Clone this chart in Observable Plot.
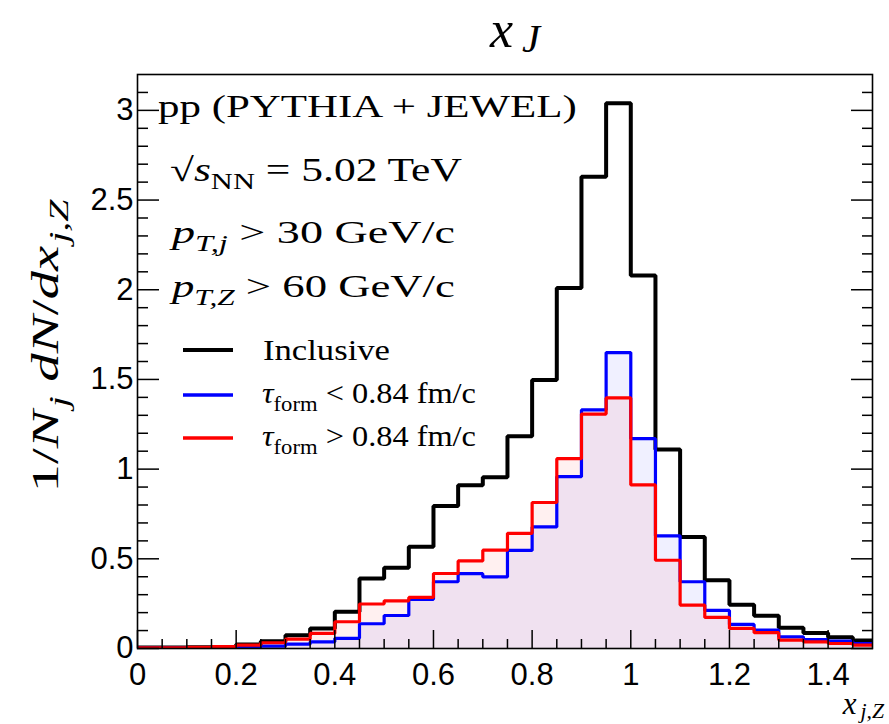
<!DOCTYPE html>
<html><head><meta charset="utf-8">
<script src="https://cdn.jsdelivr.net/npm/d3@7"></script>
<script src="https://cdn.jsdelivr.net/npm/@observablehq/plot@0.6"></script>
<style>
body{margin:0;background:#fff;}
#wrap{position:relative;width:889px;height:724px;overflow:hidden;background:#fff}
#wrap svg{position:absolute;left:0;top:0}
</style></head><body><div id="wrap"></div>
<script>
// bin lower edges (width 0.05)
const binLow = [0,0.05,0.1,0.15,0.2,0.25,0.3,0.35,0.4,0.45,0.5,0.55,0.6,0.65,0.7,0.75,0.8,0.85,0.9,0.95,1.0,1.05,1.1,1.15,1.2,1.25,1.3,1.35,1.4,1.45];
const binHigh = 1.5;
const inclusive = [0.005,0.005,0.007,0.009,0.022,0.04,0.074,0.112,0.205,0.39,0.45,0.567,0.795,0.91,0.955,1.183,1.497,2.01,2.63,3.04,2.08,1.11,0.621,0.381,0.244,0.183,0.115,0.086,0.063,0.045];
const tauShort = [0.002,0.002,0.003,0.003,0.006,0.013,0.024,0.037,0.057,0.138,0.184,0.274,0.372,0.417,0.399,0.547,0.678,0.958,1.33,1.65,1.17,0.628,0.372,0.212,0.134,0.102,0.065,0.05,0.041,0.028];
const tauLong = [0.004,0.004,0.006,0.01,0.019,0.032,0.052,0.084,0.149,0.248,0.266,0.285,0.418,0.488,0.548,0.642,0.814,1.058,1.307,1.397,0.912,0.492,0.242,0.173,0.112,0.088,0.047,0.037,0.028,0.019];
const seriesNames = ["Inclusive", "tauShort", "tauLong"];
const seriesColors = ["#000000", "#0000ff", "#ff0000"];
const xMajor = [0,0.2,0.4,0.6,0.8,1,1.2,1.4];
const xMinor = [0.05,0.1,0.15,0.25,0.3,0.35,0.45,0.5,0.55,0.65,0.7,0.75,0.85,0.9,0.95,1.05,1.1,1.15,1.25,1.3,1.35,1.45];
const yMajor = [0,0.5,1,1.5,2,2.5,3];
const yMinor = [0.1,0.2,0.3,0.4,0.6,0.7,0.8,0.9,1.1,1.2,1.3,1.4,1.6,1.7,1.8,1.9,2.1,2.2,2.3,2.4,2.6,2.7,2.8,2.9,3.1];

function steps(vals){
  const pts = binLow.map((x,i)=>({x, v: vals[i]}));
  pts.push({x: binHigh, v: vals[vals.length-1]});
  return pts;
}
const dInc = steps(inclusive), dShort = steps(tauShort), dLong = steps(tauLong);

const tickFont = "'Liberation Sans', Arial, sans-serif";
const plot = Plot.plot({
  width: 889, height: 724,
  marginLeft: 137, marginRight: 17, marginTop: 74, marginBottom: 76,
  x: {domain: [0, 1.49]},
  y: {domain: [0, 3.2]},
  style: {background: "#fff", color: "#000", overflow: "visible"},
  marks: [
    Plot.areaY(dShort, {x: "x", y: "v", curve: "step-after", fill: seriesColors[1], fillOpacity: 0.06, clip: true}),
    Plot.areaY(dLong, {x: "x", y: "v", curve: "step-after", fill: seriesColors[2], fillOpacity: 0.06, clip: true}),
    Plot.lineY(dInc, {x: "x", y: "v", curve: "step-after", stroke: seriesColors[0], strokeWidth: 4, strokeLinejoin: "miter", clip: true}),
    Plot.lineY(dShort, {x: "x", y: "v", curve: "step-after", stroke: seriesColors[1], strokeWidth: 3.2, strokeLinejoin: "miter", clip: true}),
    Plot.lineY(dLong, {x: "x", y: "v", curve: "step-after", stroke: seriesColors[2], strokeWidth: 3.2, strokeLinejoin: "miter", clip: true}),
    Plot.frame({stroke: "#000", strokeWidth: 1.6}),
    Plot.axisX({ticks: xMajor, anchor: "bottom", tickSize: -18, tickPadding: 32, strokeWidth: 1.5, tickFormat: d => String(d), fontSize: 31, fontFamily: tickFont, label: null}),
    Plot.axisX({ticks: xMinor, anchor: "bottom", tickSize: -9, strokeWidth: 1.5, tickFormat: () => "", label: null}),
    Plot.axisY({ticks: yMajor, anchor: "left", tickSize: -22, tickPadding: 26, strokeWidth: 1.5, tickFormat: d => String(d), fontSize: 31, fontFamily: tickFont, label: null}),
    Plot.axisY({ticks: yMinor, anchor: "left", tickSize: -11, strokeWidth: 1.5, tickFormat: () => "", label: null}),
    Plot.axisY({ticks: yMajor, anchor: "right", tickSize: -22, strokeWidth: 1.5, tickFormat: () => "", label: null}),
    Plot.axisY({ticks: yMinor, anchor: "right", tickSize: -11, strokeWidth: 1.5, tickFormat: () => "", label: null})
  ]
});
const wrap = document.getElementById("wrap");
wrap.appendChild(plot);

// text overlay
const ov = d3.select(wrap).append("svg").attr("width", 889).attr("height", 724);
const serif = "Liberation Serif";

function addText({x, y, size, parts, width, anchor = "start", rotate = 0}){
  const g = ov.append("g").attr("transform", `translate(${x},${y}) rotate(${rotate})`);
  const t = g.append("text").attr("font-family", serif).style("font-family", `"${serif}"`)
    .attr("font-size", size).attr("text-anchor", anchor).attr("fill", "#000");
  let shift = 0;
  for (const p of parts){
    const ts = t.append("tspan").text(p.t);
    const fs = p.sub ? size * (p.scale || 0.7) : size;
    if (p.sub) ts.attr("font-size", fs);
    if (p.i) ts.attr("font-style", "italic");
    if (p.dx) ts.attr("dx", p.dx);
    const target = p.sub ? size * (p.drop ?? 0.25) : 0;
    if (target !== shift){ ts.attr("dy", target - shift); shift = target; }
  }
  if (width){
    const natural = t.node().getComputedTextLength();
    if (natural > 0) g.attr("transform", `translate(${x},${y}) rotate(${rotate}) scale(${width / natural},1)`);
  }
  return t;
}
// title
addText({x: 490, y: 47, size: 52, parts: [{t: "x", i: true}, {t: "J", i: true, sub: true, scale: 0.78, drop: 0.1, dx: 9}]});
// axis titles
addText({x: 884, y: 714, size: 31, anchor: "end", parts: [{t: "x", i: true}, {t: "j,Z", i: true, sub: true, drop: 0.12, dx: 4}]});
addText({x: 58, y: 346, size: 38, anchor: "middle", rotate: -90, width: 287,
  parts: [{t: "1/"}, {t: "N", i: true}, {t: "j", i: true, sub: true, dx: 2}, {t: " dN", i: true}, {t: "/"}, {t: "dx", i: true}, {t: "j,Z", i: true, sub: true, dx: 2}]});
// annotations
addText({x: 158, y: 117, size: 31, width: 419, parts: [{t: "pp (PYTHIA + JEWEL)"}]});
addText({x: 170, y: 181, size: 33, width: 292, parts: [{t: "\u221A"}, {t: "s", i: true}, {t: "NN", sub: true}, {t: " = 5.02 TeV"}]});
addText({x: 172, y: 243, size: 32, width: 283, parts: [{t: "p", i: true}, {t: "T,j", i: true, sub: true}, {t: " > 30 GeV/c"}]});
addText({x: 172, y: 297, size: 32, width: 283, parts: [{t: "p", i: true}, {t: "T,Z", i: true, sub: true}, {t: " > 60 GeV/c"}]});

// legend
const legendLabels = [
  [{t: "Inclusive"}],
  [{t: "\u03C4", i: true}, {t: "form", sub: true}, {t: " < 0.84 fm/c"}],
  [{t: "\u03C4", i: true}, {t: "form", sub: true}, {t: " > 0.84 fm/c"}]
];
const legendY = [350, 395, 438];
const legendW = [127, 214, 214];
const legendX = [263, 262, 262];
seriesNames.forEach((s, i) => {
  ov.append("line").attr("x1", 183).attr("x2", 233).attr("y1", legendY[i]).attr("y2", legendY[i])
    .attr("stroke", seriesColors[i]).attr("stroke-width", i === 0 ? 4 : 3.5);
  addText({x: legendX[i], y: legendY[i] + (i === 0 ? 10 : 8), size: 30, width: legendW[i], parts: legendLabels[i]});
});
</script>
</body></html>
